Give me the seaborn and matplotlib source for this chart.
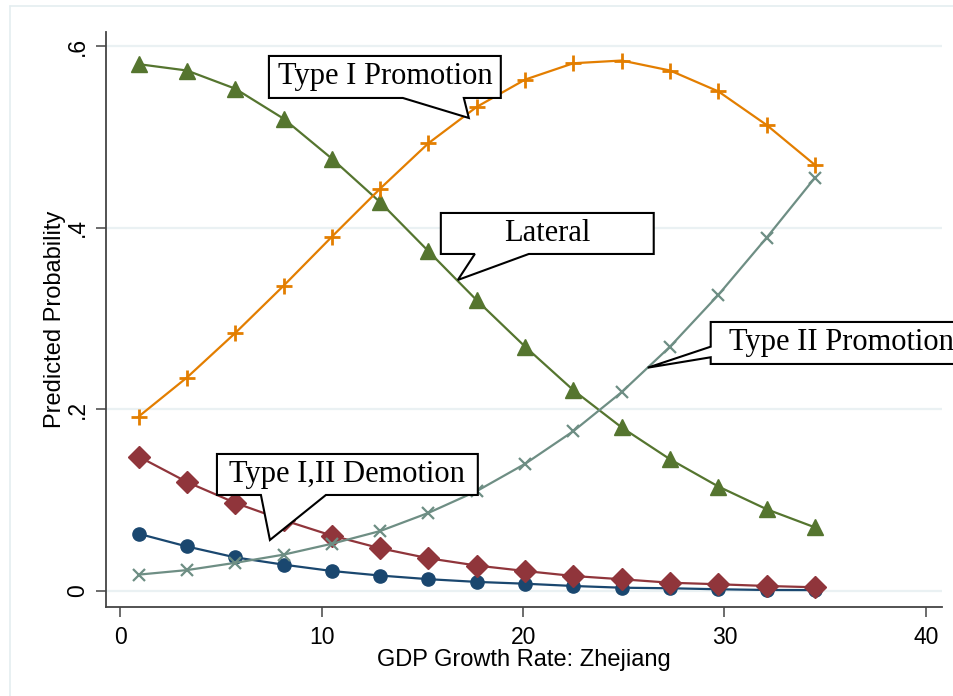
import matplotlib
matplotlib.use("Agg")
import matplotlib.pyplot as plt
from matplotlib.patches import Polygon
from matplotlib.lines import Line2D
import pandas as pd
import seaborn as sns

# Predicted probabilities of each career outcome by provincial GDP growth
gdp_growth = [0.9, 3.3, 5.7, 8.1, 10.5, 12.9, 15.3, 17.7, 20.1, 22.5, 24.9, 27.3, 29.7, 32.1, 34.5]
demotion_a = [0.063, 0.049, 0.037, 0.029, 0.022, 0.017, 0.013, 0.010, 0.008, 0.0055,
              0.0036, 0.003, 0.0019, 0.0011, 0.001]
demotion_b = [0.148, 0.120, 0.097, 0.078, 0.061, 0.047, 0.036, 0.028, 0.022, 0.0165,
              0.0129, 0.0091, 0.0074, 0.0055, 0.0041]
lateral = [0.580, 0.573, 0.553, 0.520, 0.476, 0.428, 0.374, 0.320, 0.269, 0.221,
           0.180, 0.145, 0.115, 0.090, 0.070]
promotion_1 = [0.192, 0.235, 0.284, 0.336, 0.390, 0.443, 0.493, 0.533, 0.563, 0.581,
               0.584, 0.573, 0.550, 0.513, 0.469]
promotion_2 = [0.018, 0.023, 0.031, 0.040, 0.052, 0.066, 0.086, 0.110, 0.140, 0.176,
               0.219, 0.269, 0.326, 0.389, 0.455]

x_ticks = [0, 10, 20, 30, 40]
y_ticks = [0, 0.2, 0.4, 0.6]
y_tick_labels = ["0", ".2", ".4", ".6"]

series = [
    ("demotion_a", demotion_a, "#1a476f", "o", 9.5, 1.0),
    ("demotion_b", demotion_b, "#90353b", "D", 11.5, 1.0),
    ("lateral", lateral, "#55752f", "^", 11.0, 1.0),
    ("promotion_1", promotion_1, "#e37e00", "+", 11.5, 2.0),
    ("promotion_2", promotion_2, "#6e8e84", "x", 8.0, 1.6),
]

frames = [pd.DataFrame({"growth": gdp_growth, "prob": vals, "outcome": name})
          for name, vals, *_ in series]
data = pd.concat(frames, ignore_index=True)

sns.set_theme(style="white")
plt.rcParams["font.family"] = ["Liberation Sans", "DejaVu Sans"]
plt.rcParams["text.color"] = "black"
plt.rcParams["axes.labelcolor"] = "black"

fig = plt.figure(figsize=(9.54, 6.96), dpi=100)
fig.patch.set_facecolor("white")
ax = fig.add_axes([106 / 954, 1 - 606.7 / 696, (942 - 106) / 954, (606.7 - 32) / 696])

for name, vals, color, marker, ms, mew in series:
    sns.lineplot(data=data[data["outcome"] == name], x="growth", y="prob", ax=ax,
                 color=color, marker=marker, markersize=ms, markeredgewidth=mew,
                 markeredgecolor=color, linewidth=1.6, legend=False, zorder=3)

ax.set_xlim(-0.72, 40.81)
ax.set_ylim(-0.0173, 0.6154)
ax.set_xticks(x_ticks)
ax.set_yticks(y_ticks)
ax.set_yticklabels(y_tick_labels)
ax.grid(False)
for yv in y_ticks:
    ax.axhline(yv, color="#eaf1f3", lw=1.6, zorder=0)

for side in ["top", "right"]:
    ax.spines[side].set_visible(False)
for side in ["left", "bottom"]:
    ax.spines[side].set_color("#444444")
    ax.spines[side].set_linewidth(1.3)

ax.tick_params(axis="both", which="major", direction="out", length=7.5, width=1.1,
               color="#444444", labelsize=16.5, labelcolor="black", pad=6.5,
               left=True, bottom=True)
ax.tick_params(axis="y", pad=5)
for lab in ax.get_yticklabels():
    lab.set_rotation(90)
    lab.set_va("center")

ax.set_xlabel("GDP Growth Rate: Zhejiang", fontsize=17, labelpad=0, color="black")
ax.set_ylabel("Predicted Probability", fontsize=17, labelpad=0, color="black")


def px_to_data(px, py):
    return ((px - 120.5) / 20.14, (591.0 - py) / 908.3)


def callout(box_px, pointer_px, tip_px, text, side):
    x0, y1 = px_to_data(box_px[0], box_px[1])
    x1, y0 = px_to_data(box_px[2], box_px[3])
    tip = px_to_data(*tip_px)
    if side == "bottom":
        b1 = px_to_data(pointer_px[0], box_px[3])[0]
        b2 = px_to_data(pointer_px[1], box_px[3])[0]
        verts = [(x0, y1), (x1, y1), (x1, y0), (b2, y0), tip, (b1, y0), (x0, y0)]
    else:
        b1 = px_to_data(box_px[0], pointer_px[0])[1]
        b2 = px_to_data(box_px[0], pointer_px[1])[1]
        verts = [(x0, y1), (x1, y1), (x1, y0), (x0, y0), (x0, b2), tip, (x0, b1)]
    ax.add_patch(Polygon(verts, closed=True, facecolor="white", edgecolor="black",
                         linewidth=1.5, zorder=10, clip_on=False, joinstyle="miter"))
    ax.text((x0 + x1) / 2, (y0 + y1) / 2, text, ha="center", va="center",
            fontsize=22, color="black", family=["Liberation Serif", "DejaVu Serif"],
            zorder=11, clip_on=False)


callout((269, 56, 501, 98), (403, 464), (469, 118), "Type I Promotion", "bottom")
callout((441, 213, 654, 254), (475, 529), (458, 280), "Lateral", "bottom")
callout((711, 322, 973, 364), (346.7, 357.3), (648, 367.7), "Type II Promotion", "left")
callout((217, 454, 478, 495), (261, 326), (270, 540), "Type I,II Demotion", "bottom")

# faint outer graph-region frame
fig.add_artist(Line2D([10 / 954, 10 / 954], [0, 1 - 6 / 696], transform=fig.transFigure,
                      color="#e4edf0", lw=1.2))
fig.add_artist(Line2D([10 / 954, 1], [1 - 6 / 696, 1 - 6 / 696], transform=fig.transFigure,
                      color="#e4edf0", lw=1.2))

fig.savefig("out.png", dpi=100, facecolor="white")
